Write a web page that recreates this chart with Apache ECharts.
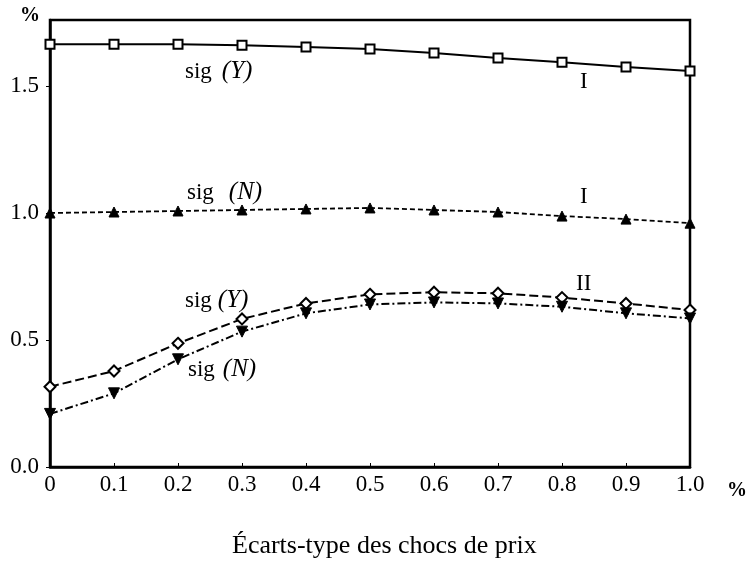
<!DOCTYPE html>
<html><head><meta charset="utf-8">
<script src="https://cdn.jsdelivr.net/npm/echarts@6/dist/echarts.min.js"></script>
<style>html,body{margin:0;padding:0;background:#fff}#c{width:748px;height:563px}</style>
</head><body><div id="c"></div>
<script>
var xValues = [0, 0.1, 0.2, 0.3, 0.4, 0.5, 0.6, 0.7, 0.8, 0.9, 1.0];
var xTickLabels = ['0', '0.1', '0.2', '0.3', '0.4', '0.5', '0.6', '0.7', '0.8', '0.9', '1.0'];
var yTickLabels = ['0.0', '0.5', '1.0', '1.5'];
var sigY_I  = [1.665, 1.665, 1.665, 1.661, 1.654, 1.646, 1.630, 1.610, 1.594, 1.575, 1.559];
var sigN_I  = [1.000, 1.004, 1.008, 1.012, 1.016, 1.020, 1.012, 1.004, 0.988, 0.976, 0.960];
var sigY_II = [0.316, 0.378, 0.487, 0.583, 0.644, 0.680, 0.688, 0.684, 0.667, 0.644, 0.618];
var sigN_II = [0.209, 0.290, 0.424, 0.533, 0.605, 0.640, 0.648, 0.644, 0.631, 0.605, 0.585];

function pairs(v){ return xValues.map(function(x,i){ return [x, v[i]]; }); }
var serif = "'Liberation Serif','DejaVu Serif',serif";
var chart = echarts.init(document.getElementById('c'));
function lbl(x, y, varName, gap){
  return {type:'text', left:x, top:y, style:{
    text:'{a|sig}{s|}{b|(' + varName + ')}',
    rich:{a:{fontFamily:serif,fontSize:23,fill:'#000'}, s:{width:gap}, b:{fontFamily:serif,fontSize:25,fontStyle:'italic',fill:'#000'}}
  }};
}
function roman(x, y, t){
  return {type:'text', left:x, top:y, style:{text:t, fontFamily:serif, fontSize:23, fill:'#000'}};
}
chart.setOption({
  animation:false,
  grid:{left:50, right:58, top:20, bottom:96, show:true, borderColor:'#000', borderWidth:2.5, backgroundColor:'transparent'},
  xAxis:{type:'value', min:0, max:1, interval:0.1,
    axisLine:{show:true, lineStyle:{color:'#000', width:2.5}},
    axisTick:{show:true, inside:true, length:4, lineStyle:{color:'#000'}},
    splitLine:{show:false},
    axisLabel:{margin:6, fontFamily:serif, fontSize:23, color:'#000',
      formatter:function(v){ var i = Math.round(v*10); return xTickLabels[i] !== undefined ? xTickLabels[i] : ''; }}
  },
  yAxis:{type:'value', min:0, max:1.76, interval:0.5,
    axisLine:{show:true, lineStyle:{color:'#000', width:2.5}},
    axisTick:{show:true, length:4, lineStyle:{color:'#000'}},
    splitLine:{show:false},
    axisLabel:{margin:11, fontFamily:serif, fontSize:23, color:'#000', showMaxLabel:false,
      formatter:function(v){ var i = Math.round(v*2); return (Math.abs(v*2 - i) < 1e-6 && yTickLabels[i]) ? yTickLabels[i] : ''; }}
  },
  series:[
    {type:'line', data:pairs(sigY_I), symbol:'rect', symbolSize:9, showAllSymbol:true,
      lineStyle:{color:'#000', width:2, type:'solid'}, itemStyle:{color:'#fff', borderColor:'#000', borderWidth:2}},
    {type:'line', data:pairs(sigN_I), symbol:'triangle', symbolSize:10,
      lineStyle:{color:'#000', width:1.8, type:[5,3]}, itemStyle:{color:'#000', borderColor:'#000'}},
    {type:'line', data:pairs(sigY_II), symbol:'diamond', symbolSize:11,
      lineStyle:{color:'#000', width:2, type:[9,4]}, itemStyle:{color:'#fff', borderColor:'#000', borderWidth:2}},
    {type:'line', data:pairs(sigN_II), symbol:'triangle', symbolRotate:180, symbolSize:11,
      lineStyle:{color:'#000', width:2, type:[8,3,2,3]}, itemStyle:{color:'#000', borderColor:'#000'}}
  ],
  graphic:[
    {type:'text', left:20, top:6, style:{text:'%', fontFamily:serif, fontSize:20, fontWeight:'bold', fill:'#000'}},
    {type:'text', left:727, top:481, style:{text:'%', fontFamily:serif, fontSize:20, fontWeight:'bold', fill:'#000'}},
    {type:'text', left:232, top:533, style:{text:'Écarts-type des chocs de prix', fontFamily:serif, fontSize:26, fill:'#000'}},
    lbl(185, 59, 'Y', 10),
    lbl(187, 180, 'N', 15),
    lbl(185, 288, 'Y', 6),
    lbl(188, 357, 'N', 8),
    roman(580, 70, 'I'),
    roman(580, 185, 'I'),
    roman(576, 272, 'II')
  ]
});
</script></body></html>
